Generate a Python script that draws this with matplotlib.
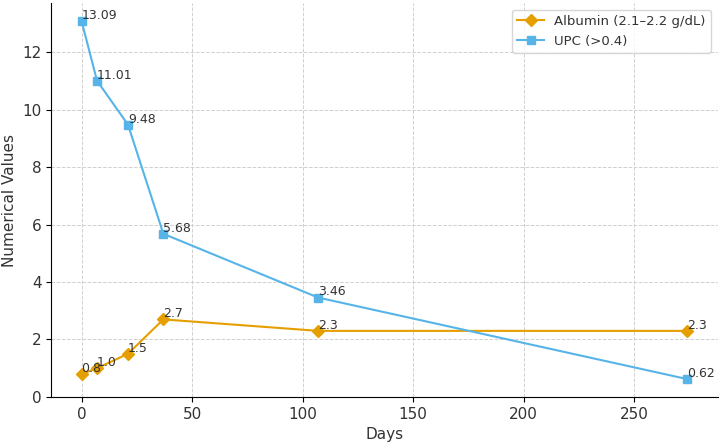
import matplotlib.pyplot as plt

days = [0, 7, 21, 37, 107, 274]
albumin = [0.8, 1.0, 1.5, 2.7, 2.3, 2.3]
upc = [13.09, 11.01, 9.48, 5.68, 3.46, 0.62]

fig, ax = plt.subplots(figsize=(7.22, 4.43), dpi=100)

ax.plot(days, albumin, marker='D', markersize=6, color='#E69F00', linewidth=1.5,
        label='Albumin (2.1\u20132.2 g/dL)')
ax.plot(days, upc, marker='s', markersize=6, color='#56B4E9', linewidth=1.5,
        label='UPC (>0.4)')

# value labels next to each point
for x, y in zip(days, albumin):
    ax.annotate(f'{y}', (x, y), xytext=(0, 1.5), textcoords='offset points',
                fontsize=9, color='#333333')
for x, y in zip(days, upc):
    ax.annotate(f'{y}', (x, y), xytext=(0, 1.5), textcoords='offset points',
                fontsize=9, color='#333333')

ax.set_xlabel('Days', fontsize=11, color='#333333')
ax.set_ylabel('Numerical Values', fontsize=11, color='#333333')
ax.set_ylim(bottom=0)
ax.tick_params(labelsize=11, labelcolor='#333333')
ax.grid(True, linestyle='--', color='#d0d0d0', linewidth=0.7)
ax.spines['top'].set_visible(False)
ax.spines['right'].set_visible(False)
leg = ax.legend(loc='upper right', fontsize=9.5)
for t in leg.get_texts():
    t.set_color('#333333')

fig.subplots_adjust(left=0.071, right=0.994, top=0.993, bottom=0.104)
plt.savefig('out.png', dpi=100)
